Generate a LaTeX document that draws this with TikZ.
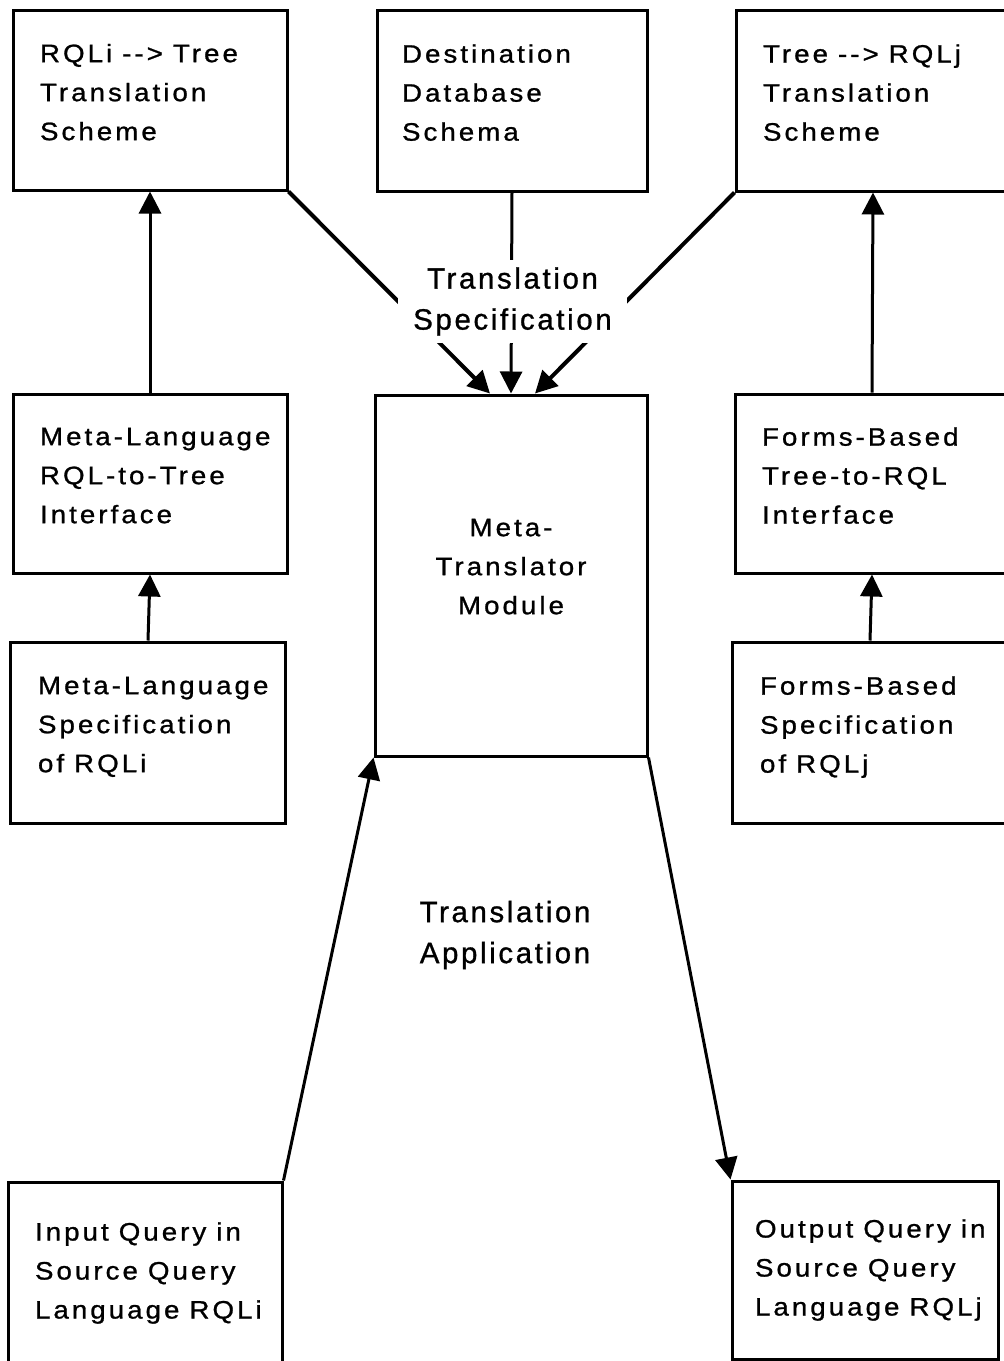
\documentclass[tikz,border=0pt]{standalone}
\usepackage{fontspec}
\usetikzlibrary{arrows.meta}
\newfontfamily\boxfamily{Liberation Sans}[FakeStretch=1.1,LetterSpace=12,FakeBold=1]
\newfontfamily\labfamily{Liberation Sans}[LetterSpace=9,FakeBold=1]
\newcommand{\boxfont}{\boxfamily\fontsize{12.6pt}{19.5pt}\selectfont\exhyphenpenalty=10000\hyphenpenalty=10000}
\newcommand{\labfont}{\labfamily\fontsize{14.7pt}{20.5pt}\selectfont}
\newcommand{\wgap}{\nobreak\hspace{5pt}\nobreak}
\begin{document}
\begin{tikzpicture}[x=0.5pt,y=-0.5pt,
	blk/.style={draw,line width=1.5pt,minimum width=137pt,minimum height=90pt,text width=110pt,align=left,inner sep=0pt,font=\boxfont},
	lift/.style={text depth=47pt},
	up/.style={line width=1.5pt,-{Triangle[length=11pt,width=11pt]}},
	feed/.style={line width=2pt,-{Triangle[length=11pt,width=11pt]}},
	lab/.style={align=center,inner sep=0pt,font=\labfont}]
	\useasboundingbox (0,0) rectangle (1004,1361);
	\node[blk,lift] (tl) at (150,100) {RQLi\wgap-->\wgap Tree\\Translation\\Scheme};
	\node[blk,lift,minimum width=135pt,minimum height=90.5pt] (tm) at (512,100.5) {Destination\\Database\\Schema};
	\node[blk,lift,minimum height=90.5pt] (tr) at (873,100.5) {Tree\wgap-->\wgap RQLj\\Translation\\Scheme};
	\node[blk,lift,minimum height=89.5pt] (ml) at (150,483.5) {Meta-Language\\RQL-to-Tree\\Interface};
	\node[blk,minimum width=136pt,minimum height=180.5pt,align=center,text depth=48pt] (mc) at (511,575.5) {Meta-\\Translator\\Module};
	\node[blk,lift,minimum height=89.5pt] (mr) at (872,483.5) {Forms-Based\\Tree-to-RQL\\Interface};
	\node[blk,lift,minimum width=137.5pt,minimum height=90.5pt] (ll) at (148,732.5) {Meta-Language\\Specification\\of\wgap RQLi};
	\node[blk,lift,minimum width=137.5pt,minimum height=90.5pt] (lr) at (870,732.5) {Forms-Based\\Specification\\of\wgap RQLj};
	\node[blk,minimum height=91pt] (bl) at (145,1273) {Input\wgap Query\wgap in\\Source\wgap Query\\Language\wgap RQLi};
	\node[blk,minimum width=133pt,minimum height=89pt] (br) at (865,1270) {Output\wgap Query\wgap in\\Source\wgap Query\\Language\wgap RQLj};
	\draw[up] (ll.north) -- (ml.south);
	\draw[up] (ml.north) -- (tl.south);
	\draw[up] (lr.north) -- (mr.south);
	\draw[up] (mr.north) -- (tr.south);
	\draw[feed] (tl.south east) -- ([xshift=-10.5pt]mc.north);
	\draw[up] (tm.south) -- (mc.north);
	\draw[feed] (tr.south west) -- ([xshift=12pt]mc.north);
	\draw[up] (bl.north east) -- (mc.south west);
	\draw[up] (mc.south east) -- (br.north west);
	\node[lab,fill=white,minimum width=114.5pt,minimum height=41.5pt] (spec) at (512.5,301.5) {Translation\\Specification};
	\node[lab] (appl) at (505,935) {Translation\\Application};
\end{tikzpicture}
\end{document}
